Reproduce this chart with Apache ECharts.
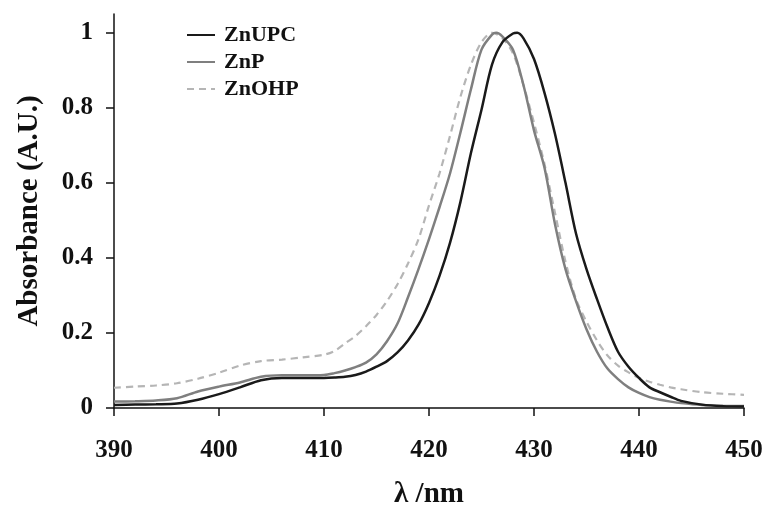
<!DOCTYPE html>
<html>
<head>
<meta charset="utf-8">
<script src="https://cdn.jsdelivr.net/npm/echarts@6/dist/echarts.min.js"></script>
<style>html,body{margin:0;padding:0;background:#fff}#c{width:768px;height:514px}</style>
</head>
<body>
<div id="c"></div>
<script>
const wavelengths = [390,392,394,396,398,400,402,404,406,408,410,411,412,413,414,415,416,417,418,419,420,421,422,423,424,425,426,427,428,429,430,431,432,433,434,435,436,437,438,439,440,441,442,443,444,446,448,450];
const ZnUPC = [0.008,0.009,0.010,0.012,0.022,0.037,0.055,0.074,0.080,0.080,0.080,0.081,0.083,0.088,0.097,0.110,0.125,0.148,0.180,0.222,0.280,0.352,0.440,0.550,0.680,0.795,0.915,0.975,0.998,0.985,0.930,0.840,0.730,0.600,0.465,0.370,0.290,0.215,0.150,0.110,0.080,0.055,0.042,0.030,0.019,0.009,0.005,0.004];
const ZnP = [0.017,0.018,0.020,0.026,0.044,0.057,0.068,0.083,0.087,0.087,0.088,0.093,0.100,0.109,0.121,0.143,0.178,0.225,0.295,0.370,0.450,0.535,0.625,0.735,0.850,0.955,0.995,0.990,0.955,0.860,0.740,0.640,0.490,0.370,0.285,0.210,0.150,0.105,0.077,0.055,0.040,0.029,0.022,0.017,0.013,0.008,0.006,0.005];
const ZnOHP = [0.054,0.057,0.060,0.066,0.078,0.094,0.113,0.125,0.129,0.135,0.142,0.152,0.172,0.192,0.218,0.248,0.285,0.330,0.385,0.450,0.540,0.625,0.725,0.830,0.915,0.975,1.000,0.985,0.945,0.860,0.760,0.650,0.520,0.390,0.290,0.230,0.180,0.140,0.113,0.095,0.080,0.070,0.062,0.055,0.050,0.042,0.038,0.035];
const peakPoints = {ZnUPC: [428.4, 1.0], ZnP: [426.4, 1.0]};
const xTicks = [390,400,410,420,430,440,450];
const yTicks = [0,0.2,0.4,0.6,0.8,1];

function zip(xs, ys, extra) {
  const pts = xs.map((x, i) => [x, ys[i]]);
  if (extra) { pts.push(extra); pts.sort((a, b) => a[0] - b[0]); }
  return pts;
}

const font = 'Liberation Serif';
const chart = echarts.init(document.getElementById('c'), null, {renderer: 'canvas'});
chart.setOption({
  animation: false,
  backgroundColor: '#fff',
  grid: {left: 114, right: 24, top: 14, bottom: 105.5},
  legend: {
    orient: 'vertical', left: 181, top: 19,
    itemWidth: 28, itemHeight: 14, itemGap: 5,
    itemStyle: {opacity: 0},
    textStyle: {fontFamily: font, fontWeight: 'bold', fontSize: 22, color: '#111', lineHeight: 22, padding: [0, 0, 0, 4]},
    data: ['ZnUPC', 'ZnP', 'ZnOHP']
  },
  xAxis: {
    type: 'value', min: 390, max: 450, interval: 10,
    name: 'λ /nm', nameLocation: 'middle', nameGap: 72,
    nameTextStyle: {fontFamily: font, fontWeight: 'bold', fontSize: 29, color: '#111'},
    axisLine: {show: true, lineStyle: {color: '#111', width: 1.5}},
    axisTick: {show: true, length: 8, lineStyle: {color: '#111', width: 1.5}},
    axisLabel: {margin: 30, fontFamily: font, fontWeight: 'bold', fontSize: 25, color: '#111', customValues: xTicks},
    splitLine: {show: false}
  },
  yAxis: {
    type: 'value', min: 0, max: 1.05,
    name: 'Absorbance (A.U.)', nameLocation: 'middle', nameGap: 70,
    nameTextStyle: {fontFamily: font, fontWeight: 'bold', fontSize: 29, color: '#111'},
    axisLine: {show: true, lineStyle: {color: '#111', width: 1.5}},
    axisTick: {show: true, length: 8, lineStyle: {color: '#111', width: 1.5}, customValues: yTicks},
    axisLabel: {margin: 21, fontFamily: font, fontWeight: 'bold', fontSize: 25, color: '#111', customValues: yTicks,
      formatter: v => String(+(+v).toFixed(1))},
    splitLine: {show: false}
  },
  series: [
    {name: 'ZnOHP', type: 'line', data: zip(wavelengths, ZnOHP), symbol: 'none', smooth: 0.3,
      lineStyle: {color: '#b5b5b5', width: 2.2, type: [7, 5]}, itemStyle: {color: '#b5b5b5'}, z: 2},
    {name: 'ZnP', type: 'line', data: zip(wavelengths, ZnP, peakPoints.ZnP), symbol: 'none', smooth: 0.3,
      lineStyle: {color: '#7f7f7f', width: 2.5}, itemStyle: {color: '#7f7f7f'}, z: 3},
    {name: 'ZnUPC', type: 'line', data: zip(wavelengths, ZnUPC, peakPoints.ZnUPC), symbol: 'none', smooth: 0.3,
      lineStyle: {color: '#1a1a1a', width: 2.5}, itemStyle: {color: '#1a1a1a'}, z: 4}
  ]
});
</script>
</body>
</html>
